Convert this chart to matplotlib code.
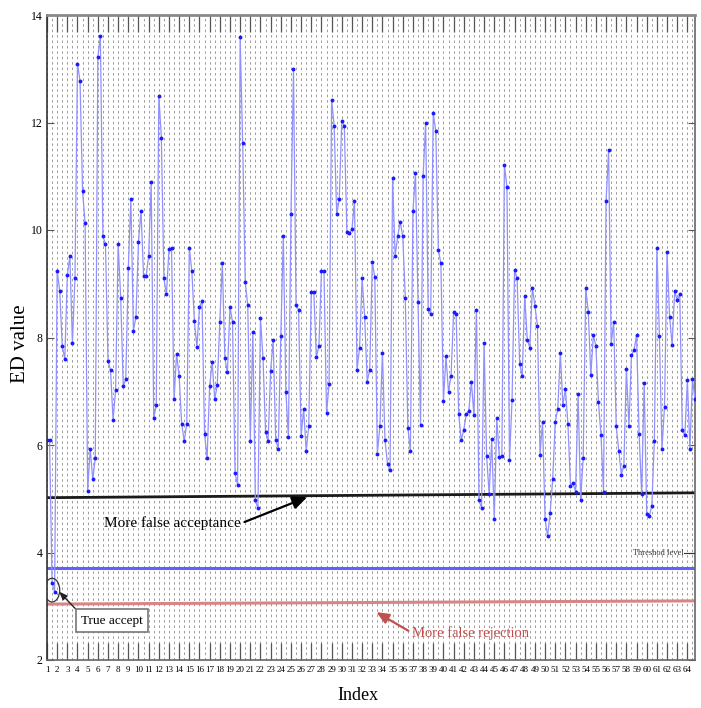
import numpy as np
import matplotlib
matplotlib.use('agg')
import matplotlib.pyplot as plt
from matplotlib.patches import Ellipse

plt.rcParams.update({
    "font.family": "serif",
    "font.serif": ["Liberation Serif", "DejaVu Serif"],
})

# ED values, 4 samples per index
ed = [6.09, 6.09, 3.43, 3.27, 9.24, 8.87, 7.84, 7.60, 9.16, 9.51, 7.89, 9.10,
      13.09, 12.77, 10.72, 10.13, 5.15, 5.93, 5.36, 5.75, 13.21, 13.61, 9.88, 9.74,
      7.56, 7.40, 6.46, 7.03, 9.74, 8.74, 7.09, 7.23, 9.30, 10.57, 8.13, 8.38,
      9.78, 10.36, 9.14, 9.14, 9.52, 10.89, 6.50, 6.74, 12.50, 11.72, 9.10, 8.80,
      9.64, 9.67, 6.85, 7.70, 7.28, 6.39, 6.07, 6.40, 9.67, 9.23, 8.30, 7.82,
      8.57, 8.67, 6.21, 5.75, 7.10, 7.54, 6.85, 7.11, 8.29, 9.39, 7.61, 7.35,
      8.57, 8.29, 5.47, 5.26, 13.59, 11.62, 9.04, 8.60, 6.07, 8.11, 4.97, 4.82,
      8.36, 7.62, 6.25, 6.07, 7.38, 7.95, 6.09, 5.93, 8.02, 9.88, 6.99, 6.14,
      10.29, 12.99, 8.60, 8.52, 6.16, 6.67, 5.89, 6.35, 8.84, 8.84, 7.63, 7.84,
      9.23, 9.23, 6.60, 7.13, 12.42, 11.94, 10.29, 10.57, 12.03, 11.94, 9.97, 9.94,
      10.01, 10.54, 7.40, 7.81, 9.10, 8.39, 7.18, 7.40, 9.40, 9.12, 5.84, 6.35,
      7.72, 6.09, 5.65, 5.54, 10.96, 9.52, 9.88, 10.15, 9.88, 8.74, 6.32, 5.89,
      10.35, 11.06, 8.66, 6.38, 11.00, 11.99, 8.53, 8.43, 12.17, 11.84, 9.63, 9.38,
      6.82, 7.65, 6.99, 7.28, 8.47, 8.43, 6.58, 6.09, 6.28, 6.57, 6.64, 7.18,
      6.55, 8.52, 4.97, 4.83, 7.89, 5.79, 5.08, 6.11, 4.63, 6.50, 5.77, 5.79,
      11.21, 10.80, 5.72, 6.83, 9.26, 9.10, 7.51, 7.28, 8.77, 7.96, 7.81, 8.93,
      8.59, 8.22, 5.82, 6.43, 4.62, 4.30, 4.74, 5.36, 6.43, 6.67, 7.72, 6.74,
      7.04, 6.39, 5.24, 5.29, 5.13, 6.94, 4.97, 5.75, 8.92, 8.48, 7.30, 8.04,
      7.84, 6.80, 6.19, 5.13, 10.54, 11.48, 7.88, 8.29, 6.35, 5.89, 5.45, 5.61,
      7.42, 6.35, 7.67, 7.77, 8.04, 6.21, 5.08, 7.16, 4.72, 4.67, 4.87, 6.07,
      9.67, 8.02, 5.93, 6.71, 9.60, 8.39, 7.86, 8.86, 8.69, 8.80, 6.28, 6.18,
      7.21, 5.93, 7.23, 6.85]

index_ticks = list(range(1, 65))
y_ticks = [2, 4, 6, 8, 10, 12, 14]

fa_level = [5.02, 5.11]      # black line, left -> right
threshold = 3.72              # blue line
fr_level = [3.04, 3.10]      # red line, left -> right

def main():
    x = 1 + np.arange(len(ed)) / 4.0
    xend = x[-1]

    fig = plt.figure(figsize=(7.01, 7.08), dpi=100)
    ax = fig.add_axes([47/701, 1 - 660/708, (695 - 47)/701, (660 - 15)/708])

    ax.set_xlim(1, xend)
    ax.set_ylim(2, 14)

    # vertical dashed grid every half index
    ax.set_xticks(index_ticks)
    ax.set_xticks(np.arange(1.5, 65, 1.0), minor=True)
    ax.grid(True, axis='x', which='both', linestyle=(0, (3, 3.5)),
            color='#8c8c8c', linewidth=0.6)
    ax.set_axisbelow(True)

    ax.plot([1, xend], fa_level, color='#1a1a1a', linewidth=2.0, zorder=2)
    ax.plot([1, xend], [threshold, threshold], color='#6060ff', linewidth=2.2, zorder=2)
    ax.plot([1, xend], fr_level, color='#d98585', linewidth=2.2, zorder=2)

    ax.plot(x, ed, color='#9090ff', linewidth=0.9, marker='.', markersize=3.6,
            markerfacecolor='#1a1aff', markeredgecolor='#1a1aff', zorder=3)

    ax.set_xticklabels([str(i) for i in index_ticks], fontsize=6.5)
    ax.set_yticks(y_ticks)
    ax.set_yticklabels([str(v) for v in y_ticks], fontsize=8.5)
    ax.tick_params(axis='x', which='major', direction='in', length=12, width=0.9,
                   color='#555555', top=True, bottom=True, pad=4)
    ax.tick_params(axis='x', which='minor', length=0, top=True, bottom=True)
    ax.tick_params(axis='y', direction='in', length=5, color='#555555',
                   left=True, right=True, pad=3)
    for s in ax.spines.values():
        s.set_color('#666666')
        s.set_linewidth(1.2)
    ax.spines['top'].set_color('#8a8a8a')
    ax.spines['top'].set_linewidth(2.0)
    ax.spines['left'].set_color('#333333')

    ax.set_xlabel("Index", fontsize=13)
    ax.set_ylabel("ED value", fontsize=15)
    ax.xaxis.set_label_coords(0.48, -0.042)
    ax.yaxis.set_label_coords(-0.027, 0.49)

    # annotations
    ax.annotate("More false acceptance", xy=(26.6, 5.03), xytext=(13.3, 4.55),
                fontsize=11, ha='center', va='center', color='black',
                arrowprops=dict(arrowstyle='-|>,head_length=0.8,head_width=0.35',
                                color='black', lw=1.6, shrinkA=1, shrinkB=0,
                                relpos=(1, 0.45)),
                zorder=5)
    ax.add_patch(Ellipse((1.5, 3.3), 1.5, 0.44, fill=False, edgecolor='#333333',
                         linewidth=0.9, zorder=4))
    ax.annotate("True accept", xy=(2.2, 3.27), xytext=(7.4, 2.73),
                fontsize=9.5, ha='center', va='center',
                bbox=dict(boxstyle='square,pad=0.4', fc='white', ec='#777777', lw=1.2),
                arrowprops=dict(arrowstyle='-|>,head_length=0.5,head_width=0.2',
                                color='#222222', lw=1.0, shrinkA=0, shrinkB=0,
                                relpos=(0, 1)),
                zorder=5)
    ax.annotate("More false rejection", xy=(33.4, 2.89), xytext=(42.7, 2.5),
                fontsize=10.5, ha='center', va='center', color='#c0504d',
                arrowprops=dict(arrowstyle='-|>,head_length=0.7,head_width=0.3',
                                color='#c0504d', lw=1.6, shrinkA=1, shrinkB=0,
                                relpos=(0, 0.5)),
                zorder=5)
    ax.text(63.6, 3.99, "Threshod level", fontsize=6, ha='right', va='center',
            color='#333333', zorder=5)
    ax.plot([63.7, xend], [3.99, 3.99], color='#333333', linewidth=0.8, zorder=5)

    fig.savefig("out.png", dpi=100)

if __name__ == "__main__":
    main()
